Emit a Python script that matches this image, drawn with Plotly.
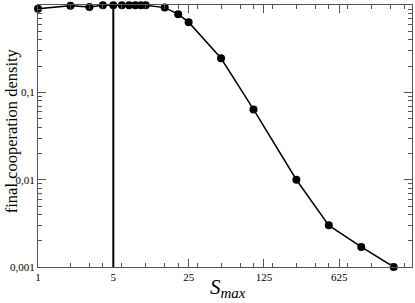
import plotly.graph_objects as go

s_max = [1, 2, 3, 4, 5, 6, 7, 8, 9, 10, 15, 20, 25, 50, 100, 250, 500, 1000, 2000]
coop_density = [0.91, 0.99, 0.955, 1.0, 1.0, 1.0, 1.0, 1.0, 1.0, 1.0, 0.94, 0.79, 0.64,
                0.247, 0.064, 0.01, 0.003, 0.0017, 0.001]

x_tickvals = [1, 5, 25, 125, 625]
x_ticktext = ["1", "5", "25", "125", "625"]
x_minor = [2, 3, 4, 6, 10, 15, 20, 30, 50, 75, 100, 150, 250, 375, 500, 750, 1250, 1875, 2500]
y_tickvals = [0.001, 0.01, 0.1, 1]
y_ticktext = ["0,001", "0,01", "0,1", "1"]
y_minor = [m * 10 ** e for e in (-3, -2, -1) for m in range(2, 10)]
vline_x = 5

fig = go.Figure()
fig.add_trace(go.Scatter(
    x=s_max, y=coop_density, mode="lines+markers",
    line=dict(color="black", width=1.5),
    marker=dict(color="black", size=8),
    cliponaxis=False, showlegend=False, hoverinfo="skip",
))

fig.add_shape(type="line", xref="x", yref="paper", x0=vline_x, x1=vline_x, y0=0, y1=1,
              line=dict(color="black", width=2))

font = "Liberation Serif, Times New Roman, DejaVu Serif, serif"
axis_common = dict(
    showgrid=False, zeroline=False, showline=True, linecolor="#555", linewidth=1,
    mirror="ticks", ticks="inside", ticklen=8, tickcolor="#555", tickwidth=1,
    tickfont=dict(family=font, size=11, color="black"), automargin=False,
)
fig.update_xaxes(type="log", range=[0, 3.471], tickmode="array",
                 tickvals=x_tickvals, ticktext=x_ticktext,
                 minor=dict(tickmode="array", tickvals=x_minor, ticks="inside",
                            ticklen=4, tickcolor="#555", showgrid=False),
                 **axis_common)
fig.update_yaxes(type="log", range=[-3.0, 0.003], tickmode="array",
                 tickvals=y_tickvals, ticktext=y_ticktext,
                 minor=dict(tickmode="array", tickvals=y_minor, ticks="inside",
                            ticklen=4, tickcolor="#555", showgrid=False),
                 **axis_common)

fig.add_annotation(text="<i>S</i><sub><i><span style='font-size:15px'>max</span></i></sub>",
                   xref="paper", yref="paper",
                   x=0.507, y=0, yanchor="top", xanchor="center", yshift=-6,
                   showarrow=False, font=dict(family=font, size=21, color="black"))
fig.add_annotation(text="final cooperation density", xref="paper", yref="paper",
                   x=-0.071, y=0.52, textangle=-90, xanchor="center", yanchor="middle",
                   showarrow=False, font=dict(family=font, size=16.5, color="black"))

fig.update_layout(
    width=415, height=303,
    margin=dict(l=38, r=3, t=5, b=36),
    plot_bgcolor="white", paper_bgcolor="white",
    font=dict(family=font, color="black"),
)
fig.write_html("out.html", config={"displayModeBar": False},
               post_script="document.body.style.margin='0';")
